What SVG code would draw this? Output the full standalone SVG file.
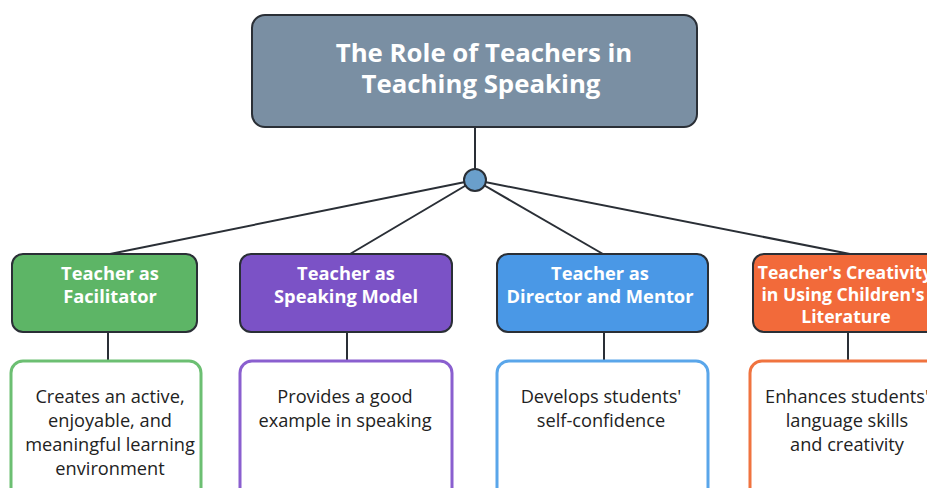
<svg xmlns="http://www.w3.org/2000/svg" width="927" height="488" viewBox="0 0 927 488">
  <style>
    .title { font-family: "Open Sans", "Liberation Sans", Arial, sans-serif; font-weight: bold; font-size: 25.8px; fill: #ffffff; text-anchor: middle; }
    .head { font-family: "Open Sans", "Liberation Sans", Arial, sans-serif; font-weight: bold; font-size: 18.3px; fill: #ffffff; text-anchor: middle; }
    .head-sm { font-size: 17.6px; }
    .desc { font-family: "Open Sans", "Liberation Sans", Arial, sans-serif; font-size: 18.2px; fill: #222222; text-anchor: middle; }
    .hbox { stroke: #2a2f36; stroke-width: 2; }
    .dbox { fill: #ffffff; stroke-width: 3; }
    .conn { stroke: #2a2f36; stroke-width: 2; fill: none; }
  </style>

  <rect width="927" height="488" fill="#ffffff"/>

  <!-- connectors -->
  <g id="connectors">
    <line class="conn" x1="475" y1="127" x2="475" y2="180"/>
    <line class="conn" x1="475" y1="180" x2="110" y2="254"/>
    <line class="conn" x1="475" y1="180" x2="350" y2="254"/>
    <line class="conn" x1="475" y1="180" x2="603" y2="254"/>
    <line class="conn" x1="475" y1="180" x2="850" y2="254"/>
    <line class="conn" x1="108" y1="333" x2="108" y2="360"/>
    <line class="conn" x1="347" y1="333" x2="347" y2="360"/>
    <line class="conn" x1="604" y1="333" x2="604" y2="360"/>
    <line class="conn" x1="848" y1="333" x2="848" y2="360"/>
    <circle cx="475" cy="180" r="11" fill="#6a9fcb" stroke="#2a2f36" stroke-width="2"/>
  </g>

  <!-- root -->
  <g id="root">
    <rect class="hbox" x="252" y="15" width="445" height="112" rx="13" fill="#7a8fa3"/>
    <text class="title" x="484" y="62">The Role of Teachers in</text>
    <text class="title" x="481" y="93">Teaching Speaking</text>
  </g>

  <!-- role headers -->
  <g id="facilitator">
    <rect class="hbox" x="12" y="254" width="185" height="78" rx="11" fill="#5db566"/>
    <text class="head" x="110" y="280">Teacher as</text>
    <text class="head" x="110" y="303">Facilitator</text>
  </g>
  <g id="speaking-model">
    <rect class="hbox" x="240" y="254" width="212" height="78" rx="11" fill="#7b52c6"/>
    <text class="head" x="346" y="280">Teacher as</text>
    <text class="head" x="346" y="303">Speaking Model</text>
  </g>
  <g id="director-mentor">
    <rect class="hbox" x="497" y="254" width="211" height="78" rx="11" fill="#4a98e6"/>
    <text class="head" x="600" y="280">Teacher as</text>
    <text class="head" x="600" y="303">Director and Mentor</text>
  </g>
  <g id="creativity">
    <rect class="hbox" x="753" y="254" width="190" height="78" rx="11" fill="#f26a3a"/>
    <text class="head head-sm" x="845" y="279">Teacher's Creativity</text>
    <text class="head head-sm" x="843" y="301">in Using Children's</text>
    <text class="head head-sm" x="846" y="323">Literature</text>
  </g>

  <!-- descriptions -->
  <g id="facilitator-desc">
    <rect class="dbox" x="11" y="361" width="190" height="150" rx="12" stroke="#6cbf72"/>
    <text class="desc" x="110" y="403">Creates an active,</text>
    <text class="desc" x="110" y="427">enjoyable, and</text>
    <text class="desc" x="110" y="451">meaningful learning</text>
    <text class="desc" x="110" y="475">environment</text>
  </g>
  <g id="speaking-model-desc">
    <rect class="dbox" x="240" y="361" width="212" height="150" rx="12" stroke="#8a5fcf"/>
    <text class="desc" x="345" y="403">Provides a good</text>
    <text class="desc" x="345" y="427">example in speaking</text>
  </g>
  <g id="director-mentor-desc">
    <rect class="dbox" x="497" y="361" width="211" height="150" rx="12" stroke="#5aa6ea"/>
    <text class="desc" x="601" y="403">Develops students'</text>
    <text class="desc" x="601" y="427">self-confidence</text>
  </g>
  <g id="creativity-desc">
    <rect class="dbox" x="750" y="361" width="195" height="150" rx="12" stroke="#f0733f"/>
    <text class="desc" x="847" y="403">Enhances students'</text>
    <text class="desc" x="847" y="427">language skills</text>
    <text class="desc" x="847" y="451">and creativity</text>
  </g>
</svg>
